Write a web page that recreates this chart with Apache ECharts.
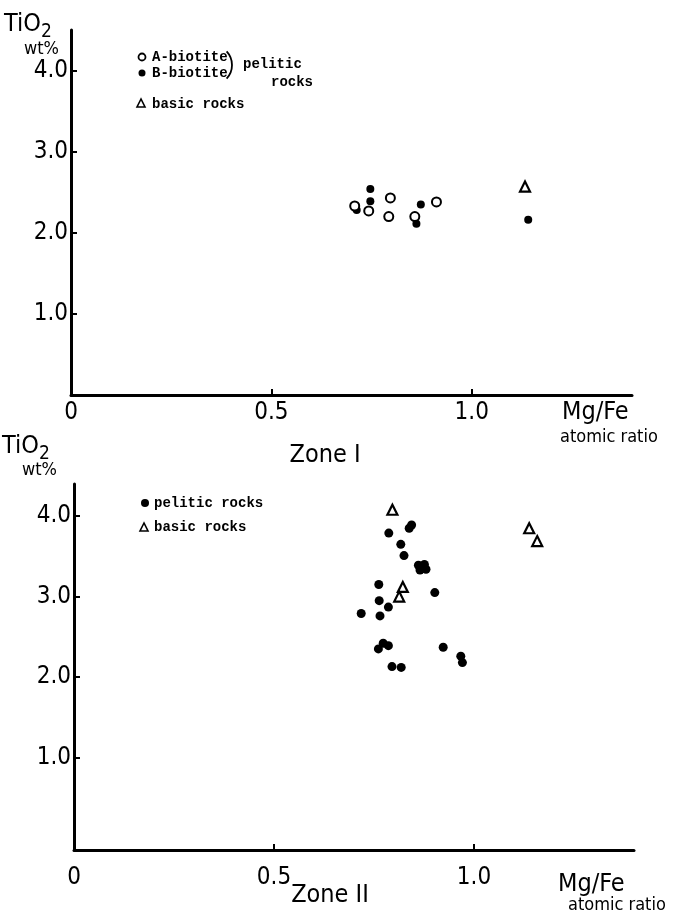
<!DOCTYPE html>
<html>
<head>
<meta charset="utf-8">
<script src="https://cdn.jsdelivr.net/npm/echarts@6/dist/echarts.min.js"></script>
<style>
  html, body { margin: 0; padding: 0; background: #fff; }
  #chart { width: 680px; height: 911px; }
</style>
</head>
<body>
<div id="chart"></div>
<script>
// Zone I
const zone1ABiotite = [
  [0.708, 2.33], [0.743, 2.27], [0.797, 2.43], [0.793, 2.20],
  [0.912, 2.38], [0.858, 2.20]
]
const zone1BBiotite = [
  [0.713, 2.28], [0.747, 2.54], [0.747, 2.39], [0.873, 2.35],
  [0.862, 2.11], [1.141, 2.16]
]
const zone1Basic = [[1.133, 2.57]]

// Zone II
const zone2Pelitic = [
  [0.844, 3.89], [0.838, 3.85], [0.787, 3.79], [0.817, 3.65], [0.825, 3.51],
  [0.861, 3.39], [0.876, 3.40], [0.865, 3.33], [0.880, 3.34], [0.762, 3.15],
  [0.902, 3.05], [0.763, 2.95], [0.786, 2.87], [0.718, 2.79], [0.765, 2.76],
  [0.773, 2.42], [0.786, 2.39], [0.761, 2.35], [0.923, 2.37], [0.967, 2.26],
  [0.971, 2.18], [0.795, 2.13], [0.818, 2.12]
]
const zone2Basic = [[0.796, 4.08], [0.822, 3.12], [0.813, 3.00], [1.138, 3.85], [1.158, 3.69]]

const xTicks = [0.5, 1.0]
const xLabels = [0, 0.5, 1.0]
const yTicks = [1, 2, 3, 4]

const numFont = '"Liberation Sans Narrow", "DejaVu Sans Condensed", "Liberation Sans", sans-serif'
const legFont = '"Liberation Mono", "DejaVu Sans Mono", monospace'
const ink = '#000'

const xAxisCfg = (gridIndex, labelMargin) => ({
  type: 'value',
  gridIndex,
  min: 0,
  max: 1.4,
  axisLine: { onZero: false, lineStyle: { color: ink, width: 3 } },
  axisTick: {
    inside: true,
    length: 6,
    customValues: xTicks,
    lineStyle: { color: ink, width: 2 }
  },
  axisLabel: {
    customValues: xLabels,
    margin: labelMargin,
    fontFamily: numFont,
    fontSize: 24,
    color: ink,
    formatter: v => (v === 0 ? '0' : v.toFixed(1))
  },
  splitLine: { show: false }
})

const yAxisCfg = (gridIndex, min, max) => ({
  type: 'value',
  gridIndex,
  min,
  max,
  axisLine: { onZero: false, lineStyle: { color: ink, width: 3 } },
  axisTick: {
    inside: true,
    length: 6,
    customValues: yTicks,
    lineStyle: { color: ink, width: 2 }
  },
  axisLabel: {
    customValues: yTicks,
    margin: 3,
    fontFamily: numFont,
    fontSize: 24,
    color: ink,
    formatter: v => v.toFixed(1)
  },
  splitLine: { show: false }
})

const openCircle = { color: '#fff', borderColor: ink, borderWidth: 2, opacity: 1 }
const filled = { color: ink, opacity: 1 }
const openTri = { color: '#fff', borderColor: ink, borderWidth: 2.2, opacity: 1 }

const txt = (x, y, text, size, font, extra) => ({
  type: 'text',
  x, y,
  style: Object.assign({
    text,
    fontSize: size,
    fontFamily: font,
    fill: ink,
    textVerticalAlign: 'middle'
  }, extra || {})
})

const chart = echarts.init(document.getElementById('chart'))

chart.setOption({
  animation: false,
  backgroundColor: '#fff',
  grid: [
    { left: 71, top: 30, width: 561, height: 365 },
    { left: 74, top: 484, width: 560, height: 366 }
  ],
  xAxis: [xAxisCfg(0, 6), xAxisCfg(1, 16)],
  yAxis: [yAxisCfg(0, 0, 4.5), yAxisCfg(1, -0.15, 4.4)],
  series: [
    { name: 'A-biotite', type: 'scatter', xAxisIndex: 0, yAxisIndex: 0, symbol: 'circle', symbolSize: 9, itemStyle: openCircle, data: zone1ABiotite, z: 3 },
    { name: 'B-biotite', type: 'scatter', xAxisIndex: 0, yAxisIndex: 0, symbol: 'circle', symbolSize: 8, itemStyle: filled, data: zone1BBiotite, z: 2 },
    { name: 'basic rocks', type: 'scatter', xAxisIndex: 0, yAxisIndex: 0, symbol: 'triangle', symbolSize: 10, itemStyle: openTri, data: zone1Basic },
    { name: 'pelitic rocks', type: 'scatter', xAxisIndex: 1, yAxisIndex: 1, symbol: 'circle', symbolSize: 9, itemStyle: filled, data: zone2Pelitic },
    { name: 'basic rocks II', type: 'scatter', xAxisIndex: 1, yAxisIndex: 1, symbol: 'triangle', symbolSize: 10, itemStyle: openTri, data: zone2Basic }
  ],
  graphic: [
    // Zone I labels
    txt(4, 24, 'TiO', 25, numFont),
    txt(41, 32, '2', 19, numFont),
    txt(24, 49, 'wt%', 18, numFont),
    txt(562, 412, 'Mg/Fe', 25, numFont),
    txt(560, 437, 'atomic ratio', 18, numFont),
    txt(325, 455, 'Zone I', 25, numFont, { textAlign: 'center' }),
    // Zone I legend
    { type: 'circle', shape: { cx: 142, cy: 57, r: 3.5 }, style: { fill: '#fff', stroke: ink, lineWidth: 1.8 } },
    { type: 'circle', shape: { cx: 142, cy: 73, r: 3.5 }, style: { fill: ink } },
    txt(152, 57, 'A-biotite', 14, legFont, { fontWeight: 'bold' }),
    txt(152, 73, 'B-biotite', 14, legFont, { fontWeight: 'bold' }),
    { type: 'arc', shape: { cx: 212, cy: 65, r: 20, startAngle: -0.75, endAngle: 0.75 }, style: { stroke: ink, lineWidth: 1.8, fill: null } },
    txt(243, 64, 'pelitic', 14, legFont, { fontWeight: 'bold' }),
    txt(271, 82, 'rocks', 14, legFont, { fontWeight: 'bold' }),
    { type: 'polygon', shape: { points: [[141, 99], [137, 107], [145, 107]] }, style: { fill: '#fff', stroke: ink, lineWidth: 1.6 } },
    txt(152, 104, 'basic rocks', 14, legFont, { fontWeight: 'bold' }),
    // Zone II labels
    txt(2, 446, 'TiO', 25, numFont),
    txt(39, 454, '2', 19, numFont),
    txt(22, 470, 'wt%', 18, numFont),
    txt(558, 884, 'Mg/Fe', 25, numFont),
    txt(568, 905, 'atomic ratio', 18, numFont),
    txt(330, 895, 'Zone II', 25, numFont, { textAlign: 'center' }),
    // Zone II legend
    { type: 'circle', shape: { cx: 145, cy: 503, r: 4 }, style: { fill: ink } },
    txt(154, 503, 'pelitic rocks', 14, legFont, { fontWeight: 'bold' }),
    { type: 'polygon', shape: { points: [[144, 523], [140, 531], [148, 531]] }, style: { fill: '#fff', stroke: ink, lineWidth: 1.6 } },
    txt(154, 527, 'basic rocks', 14, legFont, { fontWeight: 'bold' })
  ]
})
</script>
</body>
</html>
